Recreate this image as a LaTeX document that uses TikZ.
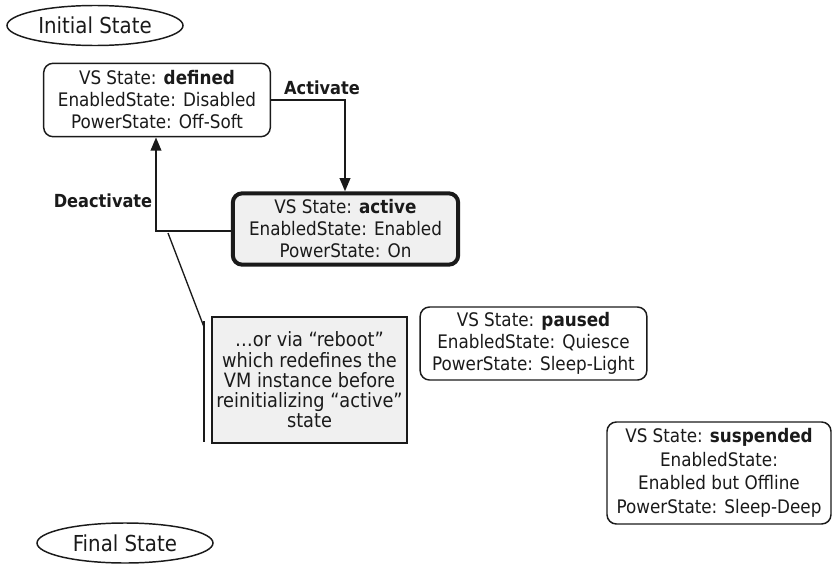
\documentclass[tikz,border=0pt]{standalone}
\usepackage{fontspec}
\setmainfont{DejaVu Sans Condensed}
\usetikzlibrary{arrows.meta,shapes.geometric,calc}
\definecolor{boxfill}{HTML}{F0F0F0}
\definecolor{ink}{HTML}{1A1A1A}
\begin{document}
\begin{tikzpicture}[x=0.75pt,y=-0.75pt,
  every node/.style={font=\fontsize{14}{16.5}\selectfont, text=ink},
  statebox/.style={draw=ink, line width=1.1pt, rounded corners=7pt, align=center, inner sep=0pt},
  activebox/.style={statebox, line width=3pt, fill=boxfill},
  notebox/.style={draw=ink, line width=1.1pt, fill=boxfill, align=center, inner sep=0pt, font=\fontsize{14.8}{15.2}\selectfont},
  endpoint/.style={draw=ink, line width=1.1pt, ellipse, inner sep=0pt, font=\fontsize{16.5}{18}\selectfont},
  trans/.style={draw=ink, line width=1.5pt, -{Triangle[length=10pt,width=8pt]}},
  tlabel/.style={font=\fontsize{13.5}{16}\selectfont\bfseries},
  leader/.style={draw=ink, line width=1pt}
]
\useasboundingbox (0,0) rectangle (832,564);

\node[endpoint, minimum width=132pt, minimum height=30pt] (init) at (95,25.5) {Initial State};
\node[endpoint, minimum width=132pt, minimum height=30pt] (final) at (125,543) {Final State};

\node[statebox, minimum width=170pt, minimum height=55pt] (defined) at (157,100)
  {VS State: \textbf{defined}\\EnabledState: Disabled\\PowerState: Off-Soft};
\node[activebox, minimum width=169pt, minimum height=53.5pt] (active) at (345.5,229)
  {VS State: \textbf{active}\\EnabledState: Enabled\\PowerState: On};
\node[statebox, minimum width=170pt, minimum height=54.75pt] (paused) at (533.5,343.5)
  {VS State: \textbf{paused}\\EnabledState: Quiesce\\PowerState: Sleep-Light};
\node[statebox, minimum width=168pt, minimum height=76.5pt, font=\fontsize{14}{17.6}\selectfont] (suspended) at (719,473)
  {VS State: \textbf{suspended}\\EnabledState:\\Enabled but Offline\\PowerState: Sleep-Deep};
\node[notebox, minimum width=146.25pt, minimum height=94.5pt] (note) at (309.5,380)
  {\ldots or via “reboot”\\which redefines the\\VM instance before\\reinitializing “active”\\state};

% Activate
\draw[trans] (defined.east |- 0,100) -- (345,100) coordinate (actcorner) -- (active.north -| 345,0);
\node[tlabel] (actlabel) at (322,88) {Activate};

% Deactivate
\draw[trans] (active.west |- 0,231) -- (156,231) coordinate (deacorner) -- (defined.south -| 156,0);
\node[tlabel] (dealabel) at (103,201) {Deactivate};

% annotation leader
\coordinate (leadstart) at (168,233);
\coordinate (brtop) at (204,321);
\coordinate (brjoin) at (204,327);
\coordinate (brbot) at (204,442);
\draw[leader] (leadstart) -- (brjoin);
\draw[leader] (brtop) -- (brbot);
\end{tikzpicture}
\end{document}
